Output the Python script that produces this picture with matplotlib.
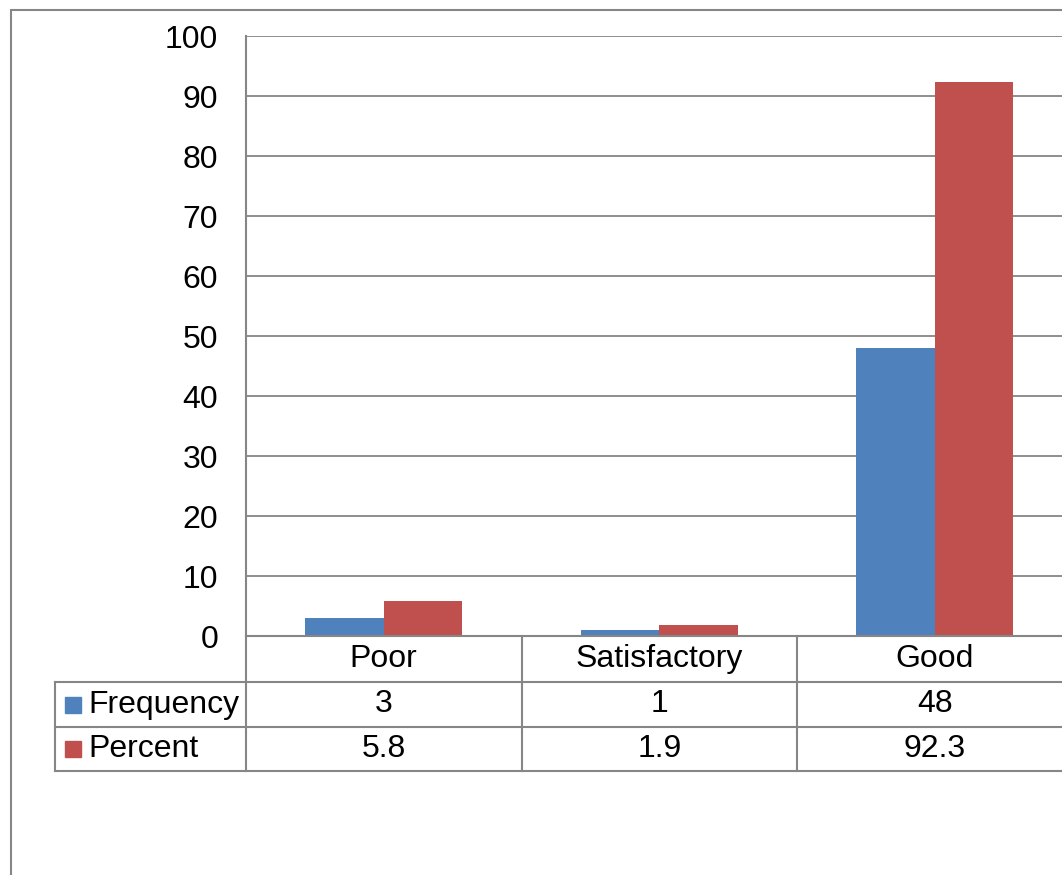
import matplotlib
matplotlib.use("Agg")
import matplotlib.pyplot as plt
import numpy as np
from matplotlib.patches import Rectangle

plt.rcParams['font.family'] = ['Liberation Sans', 'DejaVu Sans']

categories = ["Poor", "Satisfactory", "Good"]
series_names = ["Frequency", "Percent"]
frequency = [3, 1, 48]
percent = [5.8, 1.9, 92.3]
freq_labels = ["3", "1", "48"]
pct_labels = ["5.8", "1.9", "92.3"]
colors = ["#4F81BD", "#C0504D"]
grid_col = "#868686"

W, H = 1062, 875
fig = plt.figure(figsize=(W / 100, H / 100), dpi=100)

# plot area in pixels: left 246, zero line at y=636, 100 at y=36, category width ~275.5
cat_w = 275.5
left_px, top_px, bottom_px = 246, 36, 636
ax = fig.add_axes([left_px / W, 1 - bottom_px / H, 3 * cat_w / W, (bottom_px - top_px) / H])

x = np.arange(len(categories))
bw = 1 / 3.5
ax.bar(x - bw / 2, frequency, bw, color=colors[0], zorder=3)
ax.bar(x + bw / 2, percent, bw, color=colors[1], zorder=3)

fs = 23
ax.set_xlim(-0.5, len(categories) - 0.5)
ax.set_ylim(0, 100)
ax.set_yticks(np.arange(0, 101, 10))
ax.yaxis.grid(True, color=grid_col, lw=1.3, zorder=0)
ax.tick_params(axis='y', length=0, pad=20, labelsize=fs)
ax.set_xticks([])
for s in ["top", "right", "bottom"]:
    ax.spines[s].set_visible(False)
ax.spines["left"].set_color(grid_col)
ax.spines["left"].set_linewidth(1.5)

# data table below the axis
ph = bottom_px - top_px
r1 = -(682 - bottom_px) / ph
r2 = -(727 - bottom_px) / ph
r3 = -(771 - bottom_px) / ph
tleft = (55 - left_px) / cat_w - 0.5
xr = len(categories) - 0.5
tr = ax.get_xaxis_transform()
lk = dict(color=grid_col, lw=1.5, clip_on=False, transform=tr, zorder=5)
ax.plot([-0.5, xr], [0, 0], **lk)
for yy in [r1, r2, r3]:
    ax.plot([tleft, xr], [yy, yy], **lk)
ax.plot([tleft, tleft], [r1, r3], **lk)
for xb in np.arange(-0.5, len(categories) - 1):
    ax.plot([xb, xb], [0, r3], **lk)

for i, c in enumerate(categories):
    ax.text(i, r1 / 2, c, ha='center', va='center', fontsize=fs, transform=tr)
    ax.text(i, (r1 + r2) / 2, freq_labels[i], ha='center', va='center', fontsize=fs, transform=tr)
    ax.text(i, (r2 + r3) / 2, pct_labels[i], ha='center', va='center', fontsize=fs, transform=tr)

key_x = tleft + (73 - 55) / cat_w
txt_x = tleft + (88 - 55) / cat_w
for name, col, ya, yb in [(series_names[0], colors[0], r1, r2), (series_names[1], colors[1], r2, r3)]:
    ym = (ya + yb) / 2
    ax.plot([key_x], [ym], marker='s', ms=12, color=col, transform=tr, clip_on=False, zorder=6)
    ax.text(txt_x, ym, name, ha='left', va='center', fontsize=fs, transform=tr)

# outer chart border (cut off at right/bottom)
fig.patches.append(Rectangle((11 / W, -0.1), 2, (H - 10) / H + 0.1, transform=fig.transFigure,
                             fill=False, edgecolor=grid_col, lw=1.5))

fig.savefig("out.png", dpi=100)
